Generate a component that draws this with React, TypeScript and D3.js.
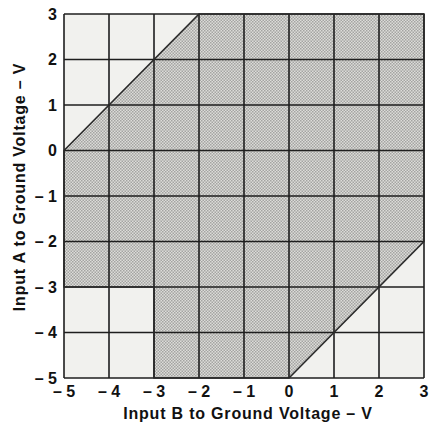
import { useEffect, useRef } from "react"
import * as d3 from "d3"

// axis ticks (volts)
const ticks = [-5, -4, -3, -2, -1, 0, 1, 2, 3]
const tickLabels = ["– 5", "– 4", "– 3", "– 2", "– 1", "0", "1", "2", "3"]

// shaded (valid) region, [inputB, inputA]
const regionB = [-5, -5, -2, 3, 3, 0, -3, -3]
const regionA = [-3, 0, 3, 3, -2, -5, -5, -3]

const xTitle = "Input B to Ground Voltage – V"
const yTitle = "Input A to Ground Voltage – V"

const App = () => {
  const svgRef = useRef<SVGSVGElement | null>(null)

  useEffect(() => {
    if (!svgRef.current) return
    const svg = d3.select(svgRef.current)
    svg.selectAll("*").remove()

    const x = d3.scaleLinear().domain([-5, 3]).range([64, 424])
    const y = d3.scaleLinear().domain([-5, 3]).range([378, 14])

    // halftone pattern
    const defs = svg.append("defs")
    const pat = defs
      .append("pattern")
      .attr("id", "halftone")
      .attr("width", 3)
      .attr("height", 3)
      .attr("patternUnits", "userSpaceOnUse")
    pat.append("rect").attr("width", 3).attr("height", 3).attr("fill", "#dcdcd9")
    pat.append("rect").attr("width", 1.5).attr("height", 1.5).attr("fill", "#a4a4a2")
    pat.append("rect").attr("x", 1.5).attr("y", 1.5).attr("width", 1.5).attr("height", 1.5).attr("fill", "#a4a4a2")

    // plot background
    svg
      .append("rect")
      .attr("x", x(-5))
      .attr("y", y(3))
      .attr("width", x(3) - x(-5))
      .attr("height", y(-5) - y(3))
      .attr("fill", "#f1f1ee")

    const pts: [number, number][] = regionB.map((b, i) => [x(b), y(regionA[i])])
    svg
      .append("path")
      .attr("d", d3.line()(pts) + "Z")
      .attr("fill", "url(#halftone)")

    // grid
    const g = svg.append("g").attr("stroke", "#1e1e1e").attr("stroke-width", 1.6)
    g.selectAll(".vx")
      .data(ticks)
      .join("line")
      .attr("x1", (d) => x(d))
      .attr("x2", (d) => x(d))
      .attr("y1", y(3))
      .attr("y2", y(-5))
    g.selectAll(".hy")
      .data(ticks)
      .join("line")
      .attr("class", "hy")
      .attr("y1", (d) => y(d))
      .attr("y2", (d) => y(d))
      .attr("x1", x(-5))
      .attr("x2", x(3))

    // diagonal boundaries
    svg
      .append("path")
      .attr("d", d3.line()(pts) + "Z")
      .attr("fill", "none")
      .attr("stroke", "#2a2a2a")
      .attr("stroke-width", 1.6)

    const font = "'Liberation Sans', Arial, sans-serif"

    svg
      .append("g")
      .selectAll("text")
      .data(ticks)
      .join("text")
      .attr("x", (d) => x(d))
      .attr("y", 397)
      .attr("text-anchor", "middle")
      .attr("font-family", font)
      .attr("font-weight", "bold")
      .attr("font-size", 16)
      .attr("fill", "#111")
      .text((d, i) => tickLabels[i])

    svg
      .append("g")
      .selectAll("text")
      .data(ticks)
      .join("text")
      .attr("x", 57)
      .attr("y", (d) => y(d))
      .attr("dy", "0.36em")
      .attr("text-anchor", "end")
      .attr("font-family", font)
      .attr("font-weight", "bold")
      .attr("font-size", 16)
      .attr("fill", "#111")
      .text((d, i) => tickLabels[i])

    svg
      .append("text")
      .attr("x", 248)
      .attr("y", 419)
      .attr("text-anchor", "middle")
      .attr("font-family", font)
      .attr("font-weight", "bold")
      .attr("font-size", 16)
      .attr("letter-spacing", 0.8)
      .attr("fill", "#111")
      .text(xTitle)

    svg
      .append("text")
      .attr("transform", "translate(25,187) rotate(-90)")
      .attr("text-anchor", "middle")
      .attr("font-family", font)
      .attr("font-weight", "bold")
      .attr("font-size", 16)
      .attr("letter-spacing", 0.8)
      .attr("fill", "#111")
      .text(yTitle)
  }, [])

  return (
    <svg
      ref={svgRef}
      width={431}
      height={422}
      style={{ position: "absolute", left: 0, top: 0, background: "#fff" }}
    />
  )
}

export default App
